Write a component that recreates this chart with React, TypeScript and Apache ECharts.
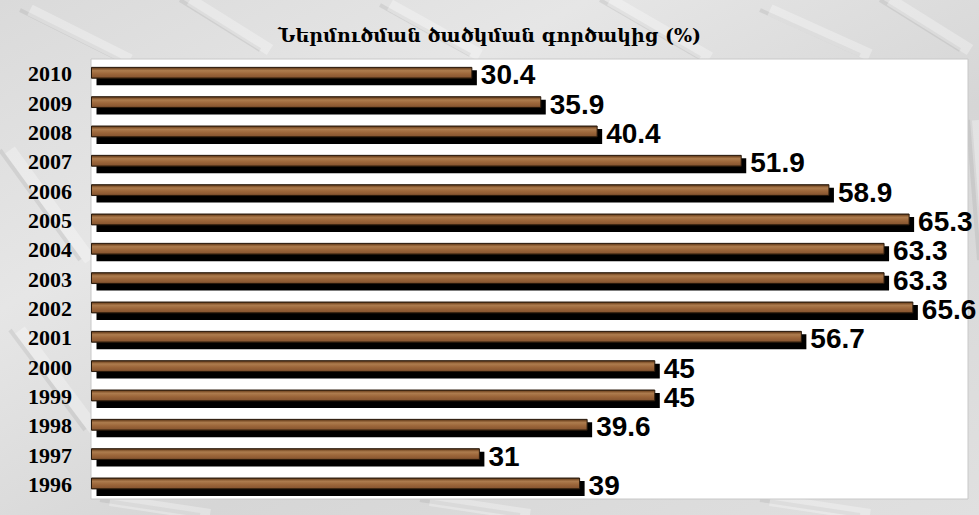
import React, { useEffect, useRef } from "react";
import * as echarts from "echarts";

const title = "Ներմուծման ծածկման գործակից (%)";
const years = ["2010", "2009", "2008", "2007", "2006", "2005", "2004", "2003", "2002", "2001", "2000", "1999", "1998", "1997", "1996"];
const values = [30.4, 35.9, 40.4, 51.9, 58.9, 65.3, 63.3, 63.3, 65.6, 56.7, 45, 45, 39.6, 31, 39];

export default function App() {
  const ref = useRef<HTMLDivElement>(null);
  useEffect(() => {
    if (!ref.current) return;
    const chart = echarts.init(ref.current, null, { renderer: "svg" });
    const barFill = new echarts.graphic.LinearGradient(0, 0, 0, 1, [
      { offset: 0, color: "#3e2814" },
      { offset: 0.12, color: "#7e5029" },
      { offset: 0.3, color: "#ad7c4e" },
      { offset: 0.6, color: "#9c663a" },
      { offset: 0.88, color: "#8a5832" },
      { offset: 1, color: "#4e3219" },
    ]);
    const streaks: any[] = [];
    const streakData = [
      [20, 10, 120, 60], [180, 0, 260, 50], [380, 5, 470, 55], [600, 0, 700, 58],
      [760, 10, 860, 55], [880, 0, 960, 50], [0, 150, 80, 260], [10, 330, 85, 430],
      [968, 120, 979, 260], [100, 500, 200, 515], [420, 500, 520, 515], [760, 500, 860, 515],
    ];
    streakData.forEach(([x1, y1, x2, y2]) => {
      streaks.push({
        type: "line",
        silent: true,
        z: -10,
        shape: { x1, y1, x2, y2 },
        style: { stroke: "rgba(140,140,140,0.18)", lineWidth: 4 },
      });
      streaks.push({
        type: "line",
        silent: true,
        z: -10,
        shape: { x1: x1 + 10, y1, x2: x2 + 10, y2 },
        style: { stroke: "rgba(255,255,255,0.3)", lineWidth: 12 },
      });
    });
    chart.setOption({
      animation: false,
      backgroundColor: new echarts.graphic.LinearGradient(0, 0, 1, 1, [
        { offset: 0, color: "#dadada" },
        { offset: 0.3, color: "#e6e6e6" },
        { offset: 0.6, color: "#d6d6d6" },
        { offset: 1, color: "#e0e0e0" },
      ]),
      title: {
        text: title,
        left: "center",
        top: 20,
        textStyle: { fontFamily: "DejaVu Serif", fontWeight: "bold", fontSize: 19, color: "#000" },
      },
      graphic: streaks,
      grid: {
        left: 91,
        right: 11,
        top: 59,
        bottom: 16,
        show: true,
        backgroundColor: "#ffffff",
        borderColor: "#c8c8c8",
        borderWidth: 1,
      },
      xAxis: {
        type: "value",
        min: 0,
        max: 70,
        show: false,
        splitLine: { show: false },
      },
      yAxis: {
        type: "category",
        data: years,
        inverse: true,
        axisLine: { show: false },
        axisTick: { show: false },
        axisLabel: {
          margin: 19,
          fontFamily: "Liberation Serif",
          fontWeight: "bold",
          fontSize: 22,
          color: "#000",
        },
      },
      series: [
        {
          type: "custom",
          encode: { x: 0, y: 1 },
          data: values.map((v, i) => [v, i]),
          renderItem: (params: any, api: any) => {
            const v = api.value(0);
            const idx = api.value(1);
            const end = api.coord([v, idx]);
            const start = api.coord([0, idx]);
            const band = api.size([0, 1])[1];
            const c = end[1];
            const top = c - band * 0.215;
            const h = band * 0.37;
            const x0 = start[0] + 0.5;
            const w = end[0] - x0;
            return {
              type: "group",
              children: [
                {
                  type: "rect",
                  shape: { x: x0 + 5, y: top + 3, width: w, height: h + 4 },
                  style: { fill: "#000" },
                },
                {
                  type: "rect",
                  shape: { x: x0, y: top, width: w, height: h },
                  style: { fill: barFill, stroke: "#2a1a0c", lineWidth: 1 },
                },
                {
                  type: "text",
                  x: end[0] + 9,
                  y: c + 1,
                  style: {
                    text: String(v),
                    fill: "#000",
                    font: "bold 28px 'Liberation Sans', Arial, sans-serif",
                    verticalAlign: "middle",
                    align: "left",
                  },
                },
              ],
            };
          },
        },
      ],
    });
    return () => chart.dispose();
  }, []);
  return (
    <div
      ref={ref}
      style={{ position: "absolute", left: 0, top: 0, width: 979, height: 515 }}
    />
  );
}
